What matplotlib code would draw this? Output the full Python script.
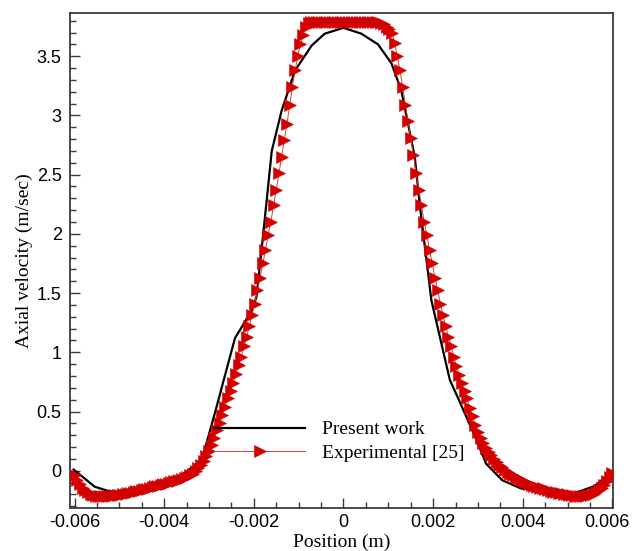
import numpy as np
import matplotlib
matplotlib.use("Agg")
import matplotlib.pyplot as plt
from matplotlib.ticker import MultipleLocator
from matplotlib.transforms import ScaledTranslation

plt.rcParams['axes.unicode_minus'] = False

# Present work (CFD line)
work_x = [-0.00602, -0.00555, -0.0052, -0.0049, -0.004, -0.00316, -0.00287, -0.00242,
          -0.00205, -0.00194, -0.00179, -0.0016, -0.00138, -0.00108, -0.00071, -0.00042,
          0.0, 0.0004, 0.00077, 0.00107, 0.00129, 0.00159, 0.0017, 0.00196, 0.00237,
          0.0027, 0.003, 0.00318, 0.00354, 0.00396, 0.005, 0.00515, 0.0056, 0.0059]
work_y = [0.01, -0.135, -0.177, -0.177, -0.149, 0.09, 0.485, 1.12,
          1.35, 1.47, 2.0, 2.7, 3.04, 3.38, 3.59, 3.69,
          3.74, 3.69, 3.6, 3.44, 3.21, 2.65, 2.25, 1.44, 0.77,
          0.49, 0.23, 0.06, -0.08, -0.15, -0.19, -0.19, -0.13, -0.036]

# Experimental [25], positions in micrometres
exp_pos_um = [
    -6000, -5940, -5880, -5820, -5760, -5700, -5640, -5580, -5520, -5460,
    -5400, -5340, -5280, -5220, -5160, -5100, -5040, -4980, -4920, -4860,
    -4800, -4740, -4680, -4620, -4560, -4500, -4440, -4380, -4320, -4260,
    -4200, -4140, -4080, -4020, -3960, -3900, -3840, -3780, -3720, -3660,
    -3600, -3540, -3480, -3420, -3360, -3300, -3240, -3180, -3120, -3060,
    -3000, -2940, -2880, -2820, -2760, -2700, -2640, -2580, -2520, -2460,
    -2400, -2340, -2280, -2220, -2160, -2100, -2040, -1980, -1920, -1860,
    -1800, -1740, -1680, -1620, -1560, -1500, -1440, -1380, -1320, -1260,
    -1200, -1140, -1080, -1020, -960, -900, -840, -780, -720, -660,
    -600, -540, -480, -420, -360, -300, -240, -180, -120, -60,
    0, 60, 120, 180, 240, 300, 360, 420, 480, 540,
    600, 660, 720, 780, 840, 900, 960, 1020, 1080, 1140,
    1200, 1260, 1320, 1380, 1440, 1500, 1560, 1620, 1680, 1740,
    1800, 1860, 1920, 1980, 2040, 2100, 2160, 2220, 2280, 2340,
    2400, 2460, 2520, 2580, 2640, 2700, 2760, 2820, 2880, 2940,
    3000, 3060, 3120, 3180, 3240, 3300, 3360, 3420, 3480, 3540,
    3600, 3660, 3720, 3780, 3840, 3900, 3960, 4020, 4080, 4140,
    4200, 4260, 4320, 4380, 4440, 4500, 4560, 4620, 4680, 4740,
    4800, 4860, 4920, 4980, 5040, 5100, 5160, 5220, 5280, 5340,
    5400, 5460, 5520, 5580, 5640, 5700, 5760, 5820, 5880, 5940,
    6000]
exp_vel = [
    -0.035, -0.08, -0.115, -0.142, -0.163, -0.18, -0.193, -0.203, -0.21, -0.214,
    -0.216, -0.216, -0.215, -0.213, -0.211, -0.208, -0.205, -0.202, -0.198, -0.194,
    -0.189, -0.184, -0.179, -0.174, -0.169, -0.163, -0.157, -0.151, -0.145, -0.139,
    -0.133, -0.127, -0.121, -0.115, -0.109, -0.103, -0.097, -0.09, -0.083, -0.076,
    -0.068, -0.06, -0.05, -0.04, -0.025, -0.005, 0.02, 0.05, 0.085, 0.125,
    0.17, 0.22, 0.28, 0.34, 0.40, 0.47, 0.54, 0.61, 0.67, 0.74,
    0.82, 0.89, 0.96, 1.05, 1.13, 1.22, 1.315, 1.41, 1.53, 1.625,
    1.75, 1.86, 1.99, 2.10, 2.24, 2.37, 2.51, 2.65, 2.79, 2.93,
    3.09, 3.24, 3.38, 3.50, 3.60, 3.68, 3.75, 3.78, 3.79, 3.79,
    3.79, 3.79, 3.79, 3.79, 3.79, 3.79, 3.79, 3.79, 3.79, 3.79,
    3.79, 3.79, 3.79, 3.79, 3.79, 3.79, 3.79, 3.79, 3.79, 3.79,
    3.79, 3.79, 3.79, 3.79, 3.78, 3.77, 3.75, 3.73, 3.70, 3.61,
    3.50, 3.38, 3.24, 3.09, 2.95, 2.81, 2.67, 2.51, 2.37, 2.24,
    2.10, 1.99, 1.86, 1.75, 1.63, 1.53, 1.41, 1.315, 1.22, 1.13,
    1.05, 0.96, 0.88, 0.81, 0.74, 0.67, 0.61, 0.53, 0.46, 0.39,
    0.33, 0.28, 0.235, 0.195, 0.16, 0.13, 0.10, 0.075, 0.05, 0.03,
    0.01, -0.008, -0.025, -0.04, -0.053, -0.065, -0.077, -0.088, -0.098, -0.108,
    -0.117, -0.126, -0.134, -0.142, -0.15, -0.157, -0.164, -0.17, -0.176, -0.182,
    -0.187, -0.192, -0.196, -0.2, -0.204, -0.207, -0.21, -0.212, -0.214, -0.214,
    -0.212, -0.208, -0.202, -0.193, -0.18, -0.165, -0.145, -0.12, -0.09, -0.055,
    -0.02]

x_ticks = [-0.006, -0.004, -0.002, 0, 0.002, 0.004, 0.006]
x_labels = ['-0.006', '-0.004', '-0.002', '0', '0.002', '0.004', '0.006']
y_ticks = [0, 0.5, 1, 1.5, 2, 2.5, 3, 3.5]
y_labels = ['0', '0.5', '1', '1.5', '2', '2.5', '3', '3.5']

exp_x = np.array(exp_pos_um) / 1e6
serif = 'Liberation Serif'
sans = 'Liberation Sans'
frame = '#3a3a3a'

fig = plt.figure(figsize=(6.32, 5.51), dpi=100)
ax = fig.add_axes([0.1108, 0.078, 0.859, 0.898])

ax.plot(work_x, work_y, color='black', lw=1.6, label='Present work', zorder=2)
ax.plot(exp_x, exp_vel, color='#e03a3a', lw=0.7, marker='>', ms=8,
        mfc='#d40000', mec='#d40000', mew=0.4, label='Experimental [25]', zorder=3)

ax.set_xlim(-0.0061, 0.00601)
ax.set_ylim(-0.315, 3.863)

ax.set_xticks(x_ticks)
ax.set_xticklabels(x_labels, fontfamily=sans, fontsize=13)
ax.set_yticks(y_ticks)
ax.set_yticklabels(y_labels, fontfamily=sans, fontsize=13)
ax.xaxis.set_minor_locator(MultipleLocator(0.0005))
ax.yaxis.set_minor_locator(MultipleLocator(0.1))
ax.tick_params(which='both', direction='in', top=False, right=False, color=frame, width=1)
ax.tick_params(which='major', length=7)
ax.tick_params(which='minor', length=4.5)
ax.tick_params(axis='x', pad=4)
ax.tick_params(axis='y', pad=6)
for s in ax.spines.values():
    s.set_color(frame)
    s.set_linewidth(1.3)

# keep the last x label inside the canvas
last = ax.get_xticklabels()[-1]
last.set_transform(last.get_transform() + ScaledTranslation(-4 / 72, 0, fig.dpi_scale_trans))

ax.set_xlabel('Position (m)', fontfamily=serif, fontsize=14)
ax.set_ylabel('Axial velocity (m/sec)', fontfamily=serif, fontsize=14)
ax.xaxis.set_label_coords(0.5, -0.051)
ax.yaxis.set_label_coords(-0.068, 0.5)

ax.legend(loc='center left', bbox_to_anchor=(0.267, 0.135), frameon=False,
          prop={'family': serif, 'size': 14}, handlelength=4.65, handletextpad=0.85,
          borderpad=0, borderaxespad=0, labelspacing=0.3, numpoints=1)

fig.savefig('out.png', dpi=100)
